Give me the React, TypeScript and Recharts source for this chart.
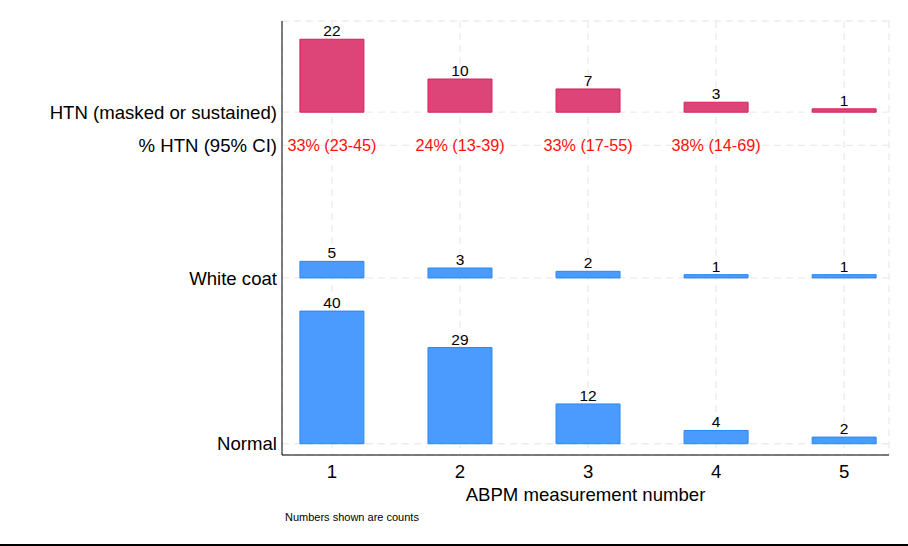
import {
  ComposedChart,
  Bar,
  Cell,
  Scatter,
  XAxis,
  YAxis,
  CartesianGrid,
  LabelList,
  Label,
} from "recharts";

const measurements = [1, 2, 3, 4, 5];
const normalCounts = [40, 29, 12, 4, 2];
const whiteCoatCounts = [5, 3, 2, 1, 1];
const htnCounts = [22, 10, 7, 3, 1];
const htnPercentCI = ["33% (23-45)", "24% (13-39)", "33% (17-55)", "38% (14-69)", ""];

// rows on the y axis: each outcome sits on its own baseline
const rowTicks = [0, 50, 90, 100];
const rowLabels: Record<number, string> = {
  0: "Normal",
  50: "White coat",
  90: "% HTN (95% CI)",
  100: "HTN (masked or sustained)",
};

const FONT = "'Liberation Sans', Arial, Helvetica, sans-serif";

const groups = [
  { key: "normal", base: 0, counts: normalCounts },
  { key: "white", base: 50, counts: whiteCoatCounts },
  { key: "htn", base: 100, counts: htnCounts },
];

const colors: Record<string, { fill: string; stroke: string }> = {
  normal: { fill: "#4b9bff", stroke: "#2a87f0" },
  white: { fill: "#4b9bff", stroke: "#2a87f0" },
  htn: { fill: "#dd4477", stroke: "#d42160" },
};

const barData = groups.flatMap((g) =>
  measurements.map((m, i) => ({
    x: m,
    range: [g.base, g.base + g.counts[i]],
    count: g.counts[i],
    group: g.key,
  }))
);

const pctData = measurements
  .map((m, i) => ({ x: m, y: 90, text: htnPercentCI[i] }))
  .filter((d) => d.text);

const PctText = (props: any) => (
  <text
    x={props.cx}
    y={props.cy + 6}
    textAnchor="middle"
    fontSize={16.2}
    fontFamily={FONT}
    fill="#ff0f0f"
  >
    {props.payload.text}
  </text>
);

export default function App() {
  return (
    <div
      style={{
        position: "absolute",
        left: 0,
        top: 0,
        width: 908,
        height: 546,
        background: "#fff",
        fontFamily: FONT,
      }}
    >
      <ComposedChart
        width={908}
        height={546}
        data={barData}
        margin={{ top: 21, right: 19, left: 0, bottom: 0 }}
      >
        <CartesianGrid stroke="#ebebeb" strokeDasharray="7 5" strokeWidth={1.3} />
        <XAxis
          type="number"
          dataKey="x"
          domain={[0.61, 5.35]}
          ticks={measurements}
          interval={0}
          allowDataOverflow
          height={91}
          tickLine={false}
          tickSize={0}
          tickMargin={10}
          axisLine={{ stroke: "#000" }}
          tick={{ fontSize: 18.6, fill: "#000", fontFamily: FONT }}
        >
          <Label
            value="ABPM measurement number"
            position="insideBottom"
            offset={45}
            fontSize={18.6}
            fill="#000"
            fontFamily={FONT}
          />
        </XAxis>
        <YAxis
          type="number"
          domain={[-3.4, 127.5]}
          ticks={rowTicks}
          interval={0}
          allowDataOverflow
          width={282}
          tickFormatter={(v: number) => rowLabels[v] ?? ""}
          tickLine={false}
          tickSize={0}
          tickMargin={5}
          axisLine={{ stroke: "#000" }}
          tick={{ fontSize: 18.6, fill: "#000", fontFamily: FONT }}
        />
        <Bar dataKey="range" barSize={64} isAnimationActive={false}>
          {barData.map((d, i) => (
            <Cell
              key={i}
              fill={colors[d.group].fill}
              stroke={colors[d.group].stroke}
              strokeWidth={1}
            />
          ))}
          <LabelList
            dataKey="count"
            position="top"
            offset={3}
            fontSize={15.5}
            fill="#000"
            fontFamily={FONT}
          />
        </Bar>
        <Scatter data={pctData} dataKey="y" shape={PctText} isAnimationActive={false} />
      </ComposedChart>
      <svg
        width={908}
        height={546}
        style={{ position: "absolute", left: 0, top: 0, pointerEvents: "none" }}
      >
        <text x={285} y={521} fontSize={11} fontFamily={FONT} fill="#000">
          Numbers shown are counts
        </text>
        <rect x={0} y={544} width={908} height={2} fill="#000" />
      </svg>
    </div>
  );
}
